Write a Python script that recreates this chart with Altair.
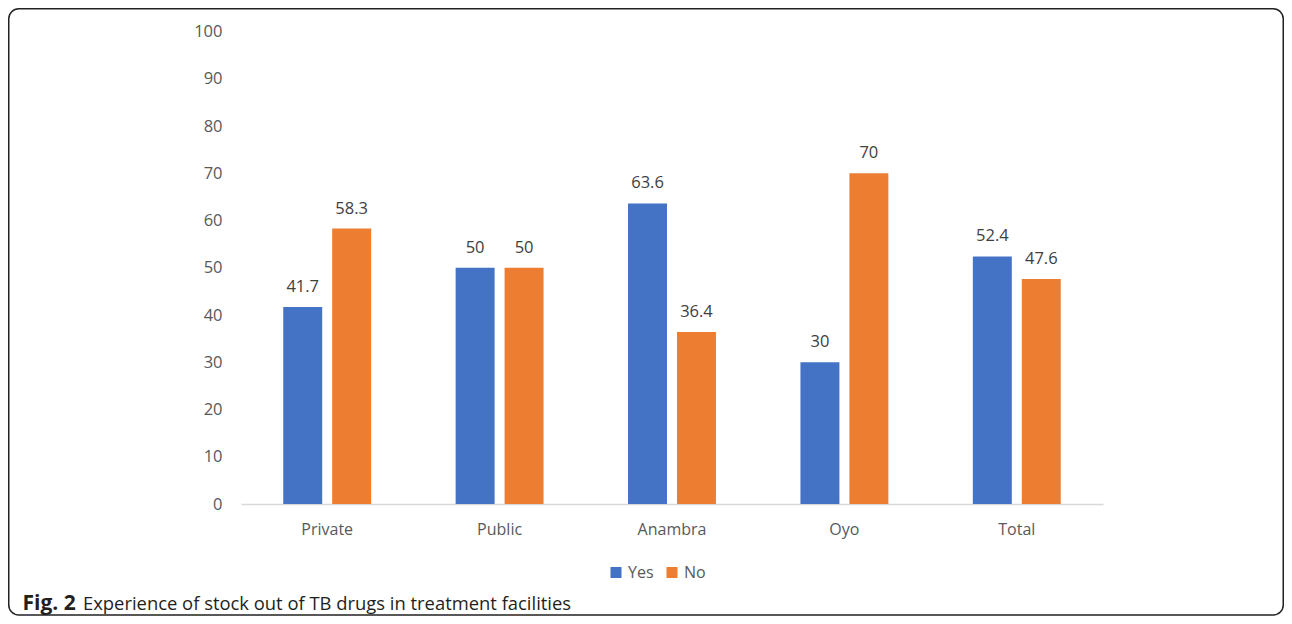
import altair as alt
import pandas as pd

categories = ["Private", "Public", "Anambra", "Oyo", "Total"]
yes_values = [41.7, 50, 63.6, 30, 52.4]
no_values = [58.3, 50, 36.4, 70, 47.6]
series = ["Yes", "No"]
colors = ["#4472C4", "#ED7D31"]
y_ticks = [0, 10, 20, 30, 40, 50, 60, 70, 80, 90, 100]
caption_bold = "Fig. 2"
caption_text = "Experience of stock out of TB drugs in treatment facilities"

rows = []
for c, y, n in zip(categories, yes_values, no_values):
    rows.append({"category": c, "series": "Yes", "value": y})
    rows.append({"category": c, "series": "No", "value": n})
df = pd.DataFrame(rows)
df["label"] = df["value"].map(lambda v: f"{v:g}")

FONT = "Open Sans"

x_enc = alt.X("category:N", sort=categories,
              scale=alt.Scale(paddingInner=0.49, paddingOuter=0.245),
              axis=alt.Axis(title=None, labelAngle=0, labelFontSize=16, labelFont=FONT,
                            labelColor="#595959", ticks=False, tickSize=0, labelPadding=17,
                            domainColor="#D9D9D9", domainWidth=1.5, grid=False))
xo_enc = alt.XOffset("series:N", sort=series,
                     scale=alt.Scale(paddingInner=0.204, paddingOuter=0))
y_enc = alt.Y("value:Q", scale=alt.Scale(domain=[0, 100], nice=False),
              axis=alt.Axis(title=None, values=y_ticks, labelFontSize=16.5, labelFont=FONT,
                            labelColor="#595959", ticks=False, tickSize=0, labelPadding=19,
                            domain=False, grid=False))
color_enc = alt.Color("series:N", sort=series,
                      scale=alt.Scale(domain=series, range=colors),
                      legend=alt.Legend(title=None, orient="none", legendX=367, legendY=533,
                                        direction="horizontal", symbolType="square",
                                        symbolSize=121, symbolStrokeWidth=0,
                                        labelFontSize=16, labelFont=FONT, labelColor="#595959",
                                        columnPadding=10, labelOffset=4))

bars = alt.Chart(df).mark_bar().encode(x=x_enc, xOffset=xo_enc, y=y_enc, color=color_enc)
labels = alt.Chart(df).mark_text(dy=-12, fontSize=16.5, font=FONT, color="#404040",
                                 baseline="bottom").encode(
    x=alt.X("category:N", sort=categories), xOffset=alt.XOffset("series:N", sort=series),
    y="value:Q", text="label:N")

one = pd.DataFrame({"a": [1]})
border = alt.Chart(one).mark_rect(fill="transparent", stroke="#222222", strokeWidth=1.5,
                                  cornerRadius=10).encode(
    x=alt.value(-232.25), x2=alt.value(1042.25), y=alt.value(-22.75), y2=alt.value(583.5))
cap1 = alt.Chart(one).mark_text(text=caption_bold, fontWeight="bold", fontSize=21, font=FONT,
                                color="#231F20", align="left", baseline="alphabetic").encode(
    x=alt.value(-218.5), y=alt.value(578.5))
cap2 = alt.Chart(one).mark_text(text=caption_text, fontSize=18.4, font=FONT,
                                color="#231F20", align="left", baseline="alphabetic").encode(
    x=alt.value(-158), y=alt.value(578.5))

chart = alt.layer(bars, labels, border, cap1, cap2).properties(
    width=862, height=472.5,
    background="white",
    autosize=alt.AutoSizeParams(type="none"),
    padding={"left": 233, "top": 23.5, "right": 181, "bottom": 112},
).configure_view(strokeWidth=0, stroke=None)

chart.save("out.html", embed_options={"renderer": "svg", "actions": False})
